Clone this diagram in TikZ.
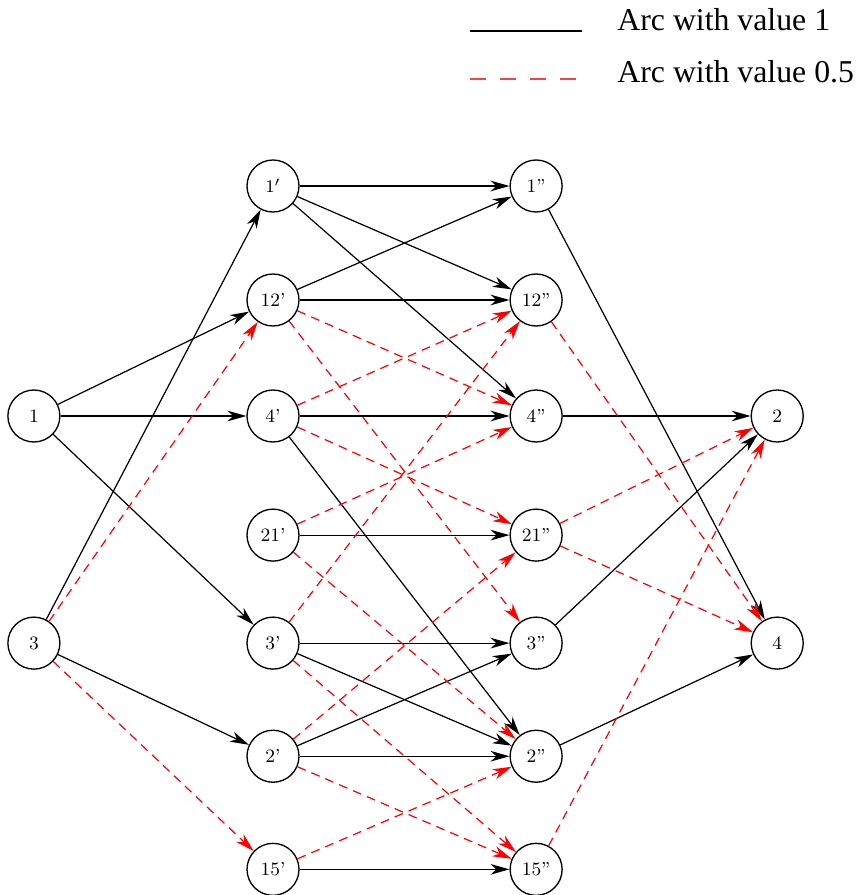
\documentclass[tikz,border=0pt]{standalone}
\usepackage{fontspec}
\newfontfamily\legendfont{Liberation Serif}
\usetikzlibrary{arrows.meta, positioning}
\tikzstyle{state} = [circle, draw, line width=0.6pt, minimum size=23.4pt,
                  inner sep=0pt, font=\fontsize{8.5}{10}\selectfont]
\tikzstyle{arcone} = [draw, line width=0.55pt, -{Stealth[length=8.5pt,width=4.8pt,inset=2.6pt]}]
\tikzstyle{archalf} = [arcone, red, dash pattern=on 4pt off 2.8pt]
\tikzstyle{legtext} = [anchor=base west, inner sep=0pt,
                  font={\legendfont\fontsize{14.3}{17}\selectfont}]

\begin{document}
\begin{tikzpicture}
        [x=0.45pt, y=-0.45pt, on grid]
        \useasboundingbox (0,0) rectangle (858,895);
        % legend
        \coordinate (solidA) at (470,31);
        \coordinate (solidB) at (582,31);
        \coordinate (dashA) at (470,79);
        \coordinate (dashB) at (577,79);
        \draw [line width=0.6pt] (solidA) -- (solidB);
        \draw [red!75, line width=0.6pt, dash pattern=on 7.2pt off 6.3pt] (dashA) -- (dashB);
        \node [legtext] (legone) at (617,31) {Arc with value 1};
        \node [legtext] (leghalf) at (617,83) {Arc with value 0.5};

        % middle columns
        \node [state] (n1p) at (273,186) {$1'$};
        \node [state, below=51.3pt of n1p] (n12p) {12'};
        \node [state, below=52.2pt of n12p] (n4p) {4'};
        \node [state, below=53.6pt of n4p] (n21p) {21'};
        \node [state, below=48.6pt of n21p] (n3p) {3'};
        \node [state, below=50.9pt of n3p] (n2p) {2'};
        \node [state, below=50.9pt of n2p] (n15p) {15'};
        \node [state, right=118.4pt of n1p] (n1pp) {1''};
        \node [state, right=118.4pt of n12p] (n12pp) {12''};
        \node [state, right=118.4pt of n4p] (n4pp) {4''};
        \node [state, right=118.4pt of n21p] (n21pp) {21''};
        \node [state, right=118.4pt of n3p] (n3pp) {3''};
        \node [state, right=118.4pt of n2p] (n2pp) {2''};
        \node [state, right=118.4pt of n15p] (n15pp) {15''};
        % outer columns
        \node [state, left=107.6pt of n4p] (n1) {1};
        \node [state, left=107.6pt of n3p] (n3) {3};
        \node [state, right=108.5pt of n4pp] (n2) {2};
        \node [state, right=108.5pt of n3pp] (n4) {4};

        % arcs with value 1
        \draw [arcone] (n1) -- (n12p);
        \draw [arcone] (n1) -- (n4p);
        \draw [arcone] (n1) -- (n3p);
        \draw [arcone] (n3) -- (n1p);
        \draw [arcone] (n3) -- (n2p);
        \draw [arcone] (n1p) -- (n1pp);
        \draw [arcone] (n1p) -- (n12pp);
        \draw [arcone] (n1p) -- (n4pp);
        \draw [arcone] (n12p) -- (n1pp);
        \draw [arcone] (n12p) -- (n12pp);
        \draw [arcone] (n4p) -- (n4pp);
        \draw [arcone] (n4p) -- (n2pp);
        \draw [arcone] (n21p) -- (n21pp);
        \draw [arcone] (n3p) -- (n3pp);
        \draw [arcone] (n3p) -- (n2pp);
        \draw [arcone] (n2p) -- (n3pp);
        \draw [arcone] (n2p) -- (n2pp);
        \draw [arcone] (n15p) -- (n15pp);
        \draw [arcone] (n1pp) -- (n4);
        \draw [arcone] (n4pp) -- (n2);
        \draw [arcone] (n3pp) -- (n2);
        \draw [arcone] (n2pp) -- (n4);

        % arcs with value 0.5
        \draw [archalf] (n3) -- (n12p);
        \draw [archalf] (n3) -- (n15p);
        \draw [archalf] (n12p) -- (n4pp);
        \draw [archalf] (n12p) -- (n3pp);
        \draw [archalf] (n4p) -- (n12pp);
        \draw [archalf] (n4p) -- (n21pp);
        \draw [archalf] (n21p) -- (n4pp);
        \draw [archalf] (n21p) -- (n2pp);
        \draw [archalf] (n3p) -- (n12pp);
        \draw [archalf] (n3p) -- (n15pp);
        \draw [archalf] (n2p) -- (n21pp);
        \draw [archalf] (n2p) -- (n15pp);
        \draw [archalf] (n15p) -- (n2pp);
        \draw [archalf] (n12pp) -- (n4);
        \draw [archalf] (n21pp) -- (n2);
        \draw [archalf] (n21pp) -- (n4);
        \draw [archalf] (n15pp) -- (n2);

    \end{tikzpicture}
\end{document}
